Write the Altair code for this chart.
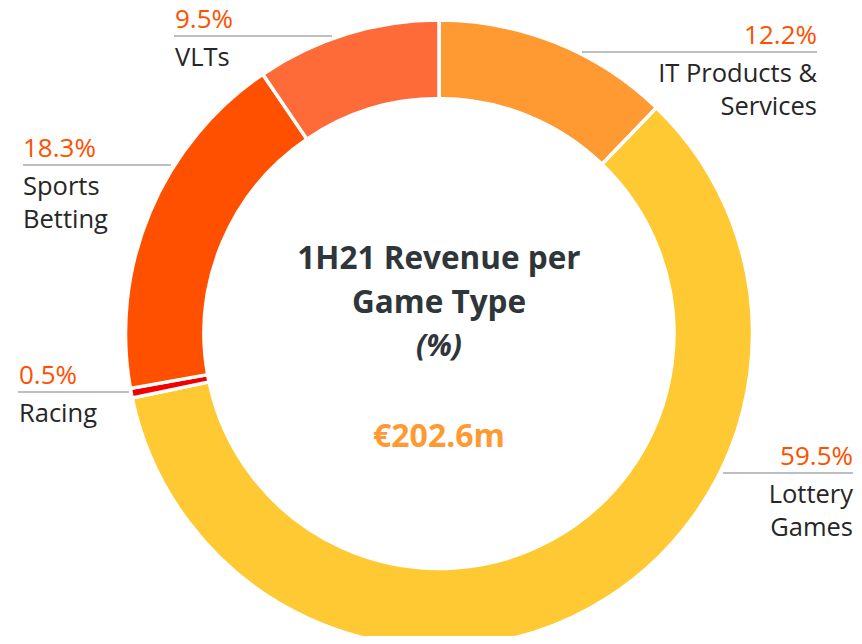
import altair as alt
import pandas as pd

# ---- data ----
categories = ["IT Products & Services", "Lottery Games", "Racing", "Sports Betting", "VLTs"]
values = [12.2, 59.5, 0.5, 18.3, 9.5]
pct_labels = ["12.2%", "59.5%", "0.5%", "18.3%", "9.5%"]
name_labels = ["IT Products &\nServices", "Lottery\nGames", "Racing", "Sports\nBetting", "VLTs"]
colors = ["#FF9A33", "#FFC933", "#F20000", "#FF5000", "#FF6A39"]

title_lines = "1H21 Revenue per\nGame Type"
subtitle = "(%)"
total_label = "€202.6m"

# ---- annotation layout (page pixels) ----
OFF = 8
line_y = [52, 473, 392, 165, 36]
line_x1 = [582, 723, 18, 23, 174]
line_x2 = [817, 853, 129, 171, 332]
anchor_x = [817, 853, 19, 23, 175]
align = ["right", "right", "left", "left", "left"]

W, H = 846, 628
CX, CY = 439 - OFF, 333.5 - OFF

df = pd.DataFrame({
    "cat": categories,
    "value": values,
    "idx": list(range(len(categories))),
    "pct": pct_labels,
    "name": name_labels,
    "ly": [v - OFF for v in line_y],
    "lx1": [v - OFF for v in line_x1],
    "lx2": [v - OFF for v in line_x2],
    "ax": [v - OFF for v in anchor_x],
    "align": align,
})
df["py"] = df["ly"] - 8
df["ny"] = df["ly"] + 30

base = alt.Chart(df)

arcs = base.mark_arc(
    innerRadius=235, outerRadius=313.5, x=CX, y=CY,
    stroke="white", strokeWidth=3.5
).encode(
    theta=alt.Theta("value:Q", stack=True),
    order=alt.Order("idx:Q"),
    color=alt.Color("cat:N", scale=alt.Scale(domain=categories, range=colors), legend=None),
)

lines = base.mark_rule(color="#A7ABAE", strokeWidth=1.5).encode(
    x=alt.X("lx1:Q", scale=None, axis=None),
    x2="lx2:Q",
    y=alt.Y("ly:Q", scale=None, axis=None),
)

FONT = "Open Sans"
layers = [arcs, lines]
for al in ["left", "right"]:
    sub = base.transform_filter(alt.datum.align == al)
    layers.append(sub.mark_text(align=al, baseline="alphabetic", font=FONT, fontSize=26,
                                color="#FF5000").encode(
        x=alt.X("ax:Q", scale=None), y=alt.Y("py:Q", scale=None), text="pct:N"))
    layers.append(sub.mark_text(align=al, baseline="alphabetic", font=FONT, fontSize=25.5,
                                color="#262626", lineBreak="\n", lineHeight=33).encode(
        x=alt.X("ax:Q", scale=None), y=alt.Y("ny:Q", scale=None), text="name:N"))

center_df = pd.DataFrame({"t": [title_lines], "s": [subtitle], "v": [total_label]})
cbase = alt.Chart(center_df)
title = cbase.mark_text(align="center", baseline="alphabetic", font=FONT, fontSize=31.5,
                        fontWeight="bold", color="#2F363A", lineBreak="\n", lineHeight=44,
                        x=CX, y=269 - OFF).encode(text="t:N")
sub_t = cbase.mark_text(align="center", baseline="alphabetic", font=FONT, fontSize=30,
                        fontWeight="bold", fontStyle="italic", color="#2F363A",
                        x=CX, y=356 - OFF).encode(text="s:N")
total = cbase.mark_text(align="center", baseline="alphabetic", font=FONT, fontSize=32,
                        fontWeight="bold", color="#FF9A33",
                        x=CX, y=447 - OFF).encode(text="v:N")
layers += [title, sub_t, total]

chart = alt.layer(*layers).properties(
    width=W, height=H, autosize=alt.AutoSizeParams(type="none"), padding=0
).configure_view(stroke=None)

chart.save("out.html", embed_options={"renderer": "svg", "actions": False})
